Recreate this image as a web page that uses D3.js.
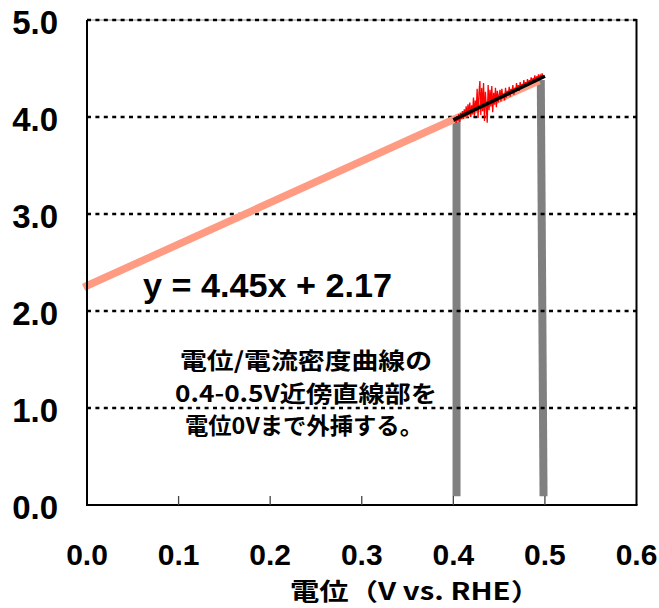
<!DOCTYPE html>
<html><head><meta charset="utf-8">
<script src="https://cdn.jsdelivr.net/npm/d3@7"></script>
<style>
html,body{margin:0;padding:0;background:#fff;}
svg{display:block;}
</style></head>
<body>
<svg id="chart" width="659" height="608"></svg>
<script>
// ---- data ----
const xTicks = [0.0, 0.1, 0.2, 0.3, 0.4, 0.5, 0.6];
const xTickLabels = ["0.0", "0.1", "0.2", "0.3", "0.4", "0.5", "0.6"];
const yTicks = [0, 1, 2, 3, 4, 5];
const yTickLabels = ["0.0", "1.0", "2.0", "3.0", "4.0", "5.0"];

// extrapolated line (salmon)
const extrapX = [0.0, 0.49];
const extrapY = [2.26, 4.36];
// fitted line (black)
const fitX = [0.400, 0.500];
const fitY = [3.97, 4.42];
// measured curve vertical parts (gray)
const grayLeftX = [0.4035, 0.4035];
const grayLeftY = [0.09, 3.97];
const grayRightX = [0.4955, 0.4985];
const grayRightY = [4.38, 0.09];
// measured noisy current density (red)
const dataX = [0.401,0.402,0.403,0.404,0.405,0.406,0.407,0.408,0.409,0.410,
               0.411,0.412,0.413,0.414,0.415,0.416,0.417,0.418,0.419,0.420,
               0.421,0.422,0.423,0.424,0.425,0.426,0.427,0.428,0.429,0.430,
               0.431,0.432,0.433,0.434,0.435,0.436,0.437,0.438,0.439,0.440,
               0.441,0.442,0.443,0.444,0.445,0.446,0.447,0.448,0.449,0.450,
               0.451,0.452,0.453,0.454,0.455,0.456,0.457,0.458,0.459,0.460,
               0.461,0.462,0.463,0.464,0.465,0.466,0.467,0.468,0.469,0.470,
               0.471,0.472,0.473,0.474,0.475,0.476,0.477,0.478,0.479,0.480,
               0.481,0.482,0.483,0.484,0.485,0.486,0.487,0.488,0.489,0.490,
               0.491,0.492,0.493,0.494,0.495,0.496,0.497,0.498,0.499];
const dataY = [3.95,3.99,3.94,4.01,3.96,4.03,3.95,4.04,3.98,4.06,
               3.98,4.08,4.00,4.11,3.99,4.13,4.02,4.15,4.00,4.12,
               4.03,4.20,4.01,4.17,4.06,4.29,3.99,4.25,4.37,4.02,
               4.30,4.06,4.35,3.96,4.26,4.10,3.94,4.33,4.07,4.28,
               4.11,4.32,4.05,4.25,4.13,4.30,4.10,4.27,4.15,4.23,
               4.28,4.16,4.29,4.19,4.24,4.17,4.30,4.20,4.27,4.22,
               4.31,4.21,4.29,4.24,4.33,4.23,4.30,4.26,4.35,4.27,
               4.33,4.27,4.36,4.29,4.34,4.30,4.38,4.31,4.36,4.33,
               4.39,4.32,4.38,4.35,4.41,4.34,4.40,4.37,4.43,4.36,
               4.42,4.38,4.44,4.39,4.43,4.41,4.45,4.40,4.43];

const eqText = "y = 4.45x + 2.17";
const noteLines = ["電位/電流密度曲線の", "0.4-0.5V近傍直線部を", "電位0Vまで外挿する。"];
const xTitle = "電位（V vs. RHE）";

// ---- drawing ----
const svg = d3.select("#chart");
const x = d3.scaleLinear().domain([0, 0.6]).range([87, 636.5]);
const y = d3.scaleLinear().domain([0, 5]).range([505, 20]);
const line = d3.line().x(d => x(d[0])).y(d => y(d[1]));
const zip = (a, b) => a.map((v, i) => [v, b[i]]);

// top border light gray under dashes
svg.append("line").attr("x1", x(0)).attr("x2", x(0.6)).attr("y1", y(5)).attr("y2", y(5))
  .attr("stroke", "#c8c8c8").attr("stroke-width", 2);

// gray vertical parts
[[grayLeftX, grayLeftY], [grayRightX, grayRightY]].forEach(([gx, gy]) => {
  svg.append("path").attr("d", line(zip(gx, gy))).attr("fill", "none")
    .attr("stroke", "#808080").attr("stroke-width", 8);
});

// gridlines
svg.append("g").selectAll("line").data(yTicks.filter(v => v > 0)).join("line")
  .attr("x1", x(0)).attr("x2", x(0.6)).attr("y1", d => y(d)).attr("y2", d => y(d))
  .attr("stroke", "#000").attr("stroke-width", 2.5).attr("stroke-dasharray", "4,4.4");

// salmon extrapolation
svg.append("path").attr("d", line(zip(extrapX, extrapY))).attr("fill", "none")
  .attr("stroke", "#FF9B82").attr("stroke-width", 7.5).attr("stroke-linecap", "square");

// red noisy data
svg.append("path").attr("d", line(zip(dataX, dataY))).attr("fill", "none")
  .attr("stroke", "#FF0000").attr("stroke-width", 1.3);

// black fit
svg.append("path").attr("d", line(zip(fitX, fitY))).attr("fill", "none")
  .attr("stroke", "#000").attr("stroke-width", 3.5);

// axes frame
svg.append("line").attr("x1", x(0)).attr("x2", x(0)).attr("y1", y(5)).attr("y2", y(0))
  .attr("stroke", "#000").attr("stroke-width", 2);
svg.append("line").attr("x1", x(0.6)).attr("x2", x(0.6)).attr("y1", y(5) - 1).attr("y2", y(0))
  .attr("stroke", "#000").attr("stroke-width", 2);
svg.append("line").attr("x1", x(0) - 1).attr("x2", x(0.6) + 1).attr("y1", y(0)).attr("y2", y(0))
  .attr("stroke", "#000").attr("stroke-width", 2);

// x ticks inward
svg.append("g").selectAll("line").data(xTicks.slice(1, -1)).join("line")
  .attr("x1", d => x(d)).attr("x2", d => x(d)).attr("y1", y(0)).attr("y2", y(0) - 9)
  .attr("stroke", "#444").attr("stroke-width", 1.3);

const tickFont = "'Liberation Sans', Arial, sans-serif";
// x tick labels
svg.append("g").selectAll("text").data(xTicks).join("text")
  .attr("x", d => x(d)).attr("y", 565)
  .attr("text-anchor", "middle").attr("font-family", tickFont).attr("font-weight", "bold")
  .attr("font-size", 30).attr("fill", "#000")
  .text((d, i) => xTickLabels[i]);
// y tick labels
svg.append("g").selectAll("text").data(yTicks).join("text")
  .attr("x", 58).attr("y", d => y(d) + 14)
  .attr("text-anchor", "end").attr("font-family", tickFont).attr("font-weight", "bold")
  .attr("font-size", 33).attr("fill", "#000")
  .text((d, i) => yTickLabels[i]);

// x axis title
svg.append("text").attr("x", 290).attr("y", 600)
  .attr("font-family", "'Noto Sans CJK JP', sans-serif").attr("font-weight", "bold")
  .attr("font-size", 24).attr("textLength", 250).attr("lengthAdjust", "spacingAndGlyphs")
  .text(xTitle);

// equation
svg.append("text").attr("x", 143).attr("y", 297)
  .attr("font-family", tickFont).attr("font-weight", "bold")
  .attr("font-size", 34).attr("textLength", 249).attr("lengthAdjust", "spacingAndGlyphs")
  .text(eqText);

// note
const noteBase = [369, 402, 434];
const noteLeft = [180, 175, 185];
const noteLen = [252, 262, 238];
noteLines.forEach((t, i) => {
  svg.append("text").attr("x", noteLeft[i]).attr("y", noteBase[i])
    .attr("font-family", "'Noto Sans CJK JP', sans-serif").attr("font-weight", "bold")
    .attr("font-size", 23).attr("textLength", noteLen[i]).attr("lengthAdjust", "spacingAndGlyphs")
    .text(t);
});
</script>
</body></html>
